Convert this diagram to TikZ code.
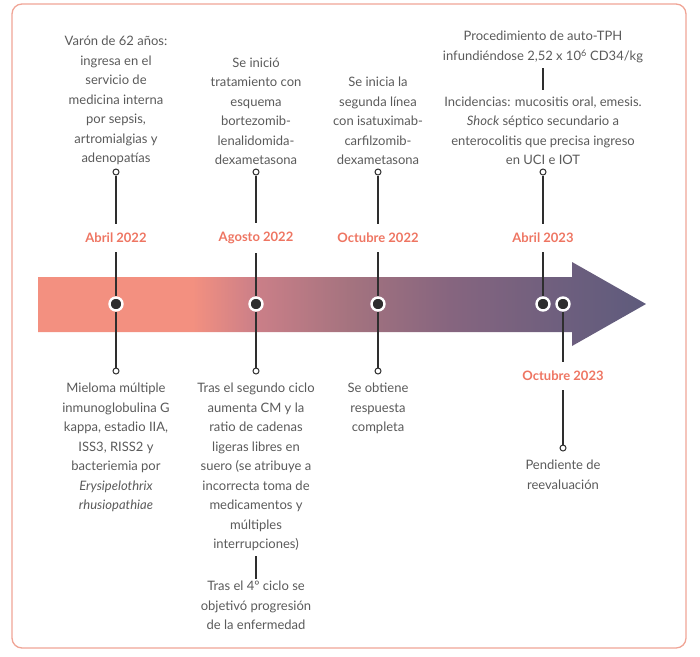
\documentclass[tikz,border=0pt]{standalone}
\usepackage{fontspec}
\setmainfont{Lato}
\usepackage{xcolor}
\usepackage{tikz}
\usetikzlibrary{positioning}
\definecolor{mysalmon}{HTML}{F39080}
\definecolor{myred}{HTML}{EE7562}
\definecolor{mygray}{HTML}{5A5A5A}
\definecolor{myframe}{HTML}{F0A596}
\definecolor{mystem}{HTML}{2E2E2E}
\definecolor{grad1}{HTML}{CB7F88}
\definecolor{grad2}{HTML}{A4737F}
\definecolor{grad3}{HTML}{86657F}
\definecolor{grad4}{HTML}{6E5F7E}
\definecolor{grad5}{HTML}{5E5B7C}
\pgfdeclarehorizontalshading{flecha}{100bp}{%
  color(0bp)=(mysalmon); color(25bp)=(mysalmon); color(37.7bp)=(mysalmon);
  color(42.9bp)=(grad1); color(50.7bp)=(grad2);
  color(58.9bp)=(grad3); color(67.9bp)=(grad4);
  color(75bp)=(grad5); color(100bp)=(grad5)}
\tikzstyle{texto} = [align=center, inner sep=0pt, text=mygray]
\tikzstyle{fecha} = [font=\fontsize{13}{15}\selectfont\bfseries, text=myred, inner xsep=2pt, inner ysep=9pt]
\tikzstyle{hito} = [circle, fill=mystem, draw=white, line width=2.4pt, minimum size=13pt, inner sep=0pt]
\tikzstyle{ojal} = [circle, fill=white, draw=mystem, line width=1pt, minimum size=6pt, inner sep=0pt]
\tikzstyle{tallo} = [mystem, line width=1.2pt]

\begin{document}
\begin{tikzpicture}[x=1pt, y=-1pt, font=\fontsize{13}{19.5}\selectfont]
    \useasboundingbox (0,0) rectangle (700,656);
    \draw[myframe, line width=1.3pt, rounded corners=10pt] (12,4) rectangle (686,648);
    % flecha del tiempo
    \shade[shading=flecha] (38,277) -- (572,277) -- (572,262) -- (646,304)
      -- (572,346) -- (572,332) -- (38,332) -- cycle;
    % hitos con texto arriba
    \foreach \x/\n/\fecha in {116/a/Abril 2022, 256/b/Agosto 2022, 378/c/Octubre 2022, 543/d/Abril 2023}{
        \node[hito] (dot\n) at (\x,304) {};
        \node[fecha] (f\n) at (\x,238) {\fecha};
        \node[ojal] (top\n) at (\x,172) {};
        \draw[tallo] (top\n) -- (f\n);
        \draw[tallo] (f\n) -- (dot\n);
    }
    \node[hito] (dote) at (563,304) {};
    \node[fecha] (fe) at (563,376) {Octubre 2023};
    \node[ojal] (bote) at (563,448) {};
    \draw[tallo] (dote) -- (fe);
    \draw[tallo] (fe) -- (bote);
    % hitos con texto abajo
    \foreach \x/\n in {116/a, 256/b, 378/c}{
        \node[ojal] (bot\n) at (\x,371) {};
        \draw[tallo] (dot\n) -- (bot\n);
    }
    % textos de arriba
    \node[texto, anchor=south] (ta) at (116,165) {Varón de 62 años:\\ingresa en el\\servicio de\\medicina interna\\por sepsis,\\artromialgias y\\adenopatías};
    \node[texto, anchor=south] (tb) at (256,165) {Se inició\\tratamiento con\\esquema\\bortezomib-\\lenalidomida-\\dexametasona};
    \node[texto, anchor=south] (tc) at (378,165) {Se inicia la\\segunda línea\\con isatuximab-\\carfilzomib-\\dexametasona};
    \node[texto, anchor=south] (tinc) at (543,165) {Incidencias: mucositis oral, emesis.\\\textit{Shock} séptico secundario a\\enterocolitis que precisa ingreso\\en UCI e IOT};
    \node[texto, anchor=south] (ttph) at (543,63) {Procedimiento de auto-TPH\\infundiéndose 2,52 x 10\textsuperscript{6} CD34/kg};
    \draw[tallo, shorten <=5pt, shorten >=6pt] (ttph) -- (tinc);
    % textos de abajo
    \node[texto, anchor=north] (ba) at (116,383) {Mieloma múltiple\\inmunoglobulina G\\kappa, estadio IIA,\\ISS3, RISS2 y\\bacteriemia por\\\textit{Erysipelothrix}\\\textit{rhusiopathiae}};
    \node[texto, anchor=north] (bb) at (256,383) {Tras el segundo ciclo\\aumenta CM y la\\ratio de cadenas\\ligeras libres en\\suero (se atribuye a\\incorrecta toma de\\medicamentos y\\múltiples\\interrupciones)};
    \node[texto, anchor=north] (bb2) at (256,581) {Tras el 4º ciclo se\\objetivó progresión\\de la enfermedad};
    \draw[tallo, shorten <=5pt, shorten >=2pt] (bb) -- (bb2);
    \node[texto, anchor=north] (bc) at (378,383) {Se obtiene\\respuesta\\completa};
    \node[texto, anchor=north] (be) at (563,460) {Pendiente de\\reevaluación};
\end{tikzpicture}
\end{document}
